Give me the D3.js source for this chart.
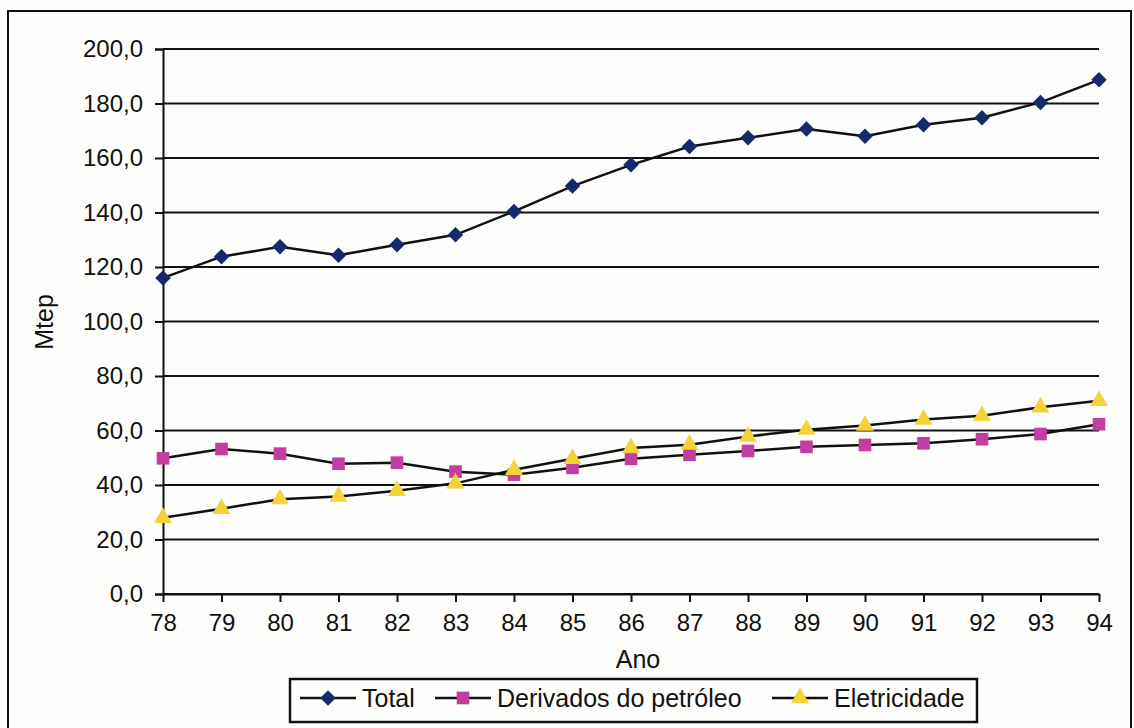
<!DOCTYPE html>
<html>
<head>
<meta charset="utf-8">
<script src="https://cdn.jsdelivr.net/npm/d3@7"></script>
<style>
  body { margin: 0; background: #fdfdfb; }
  text { font-family: Arial, "Liberation Sans", sans-serif; fill: #111; }
</style>
</head>
<body>
<script>
// Consumo de energia (Mtep), 1978-1994

let anos = ["78", "79", "80", "81", "82", "83", "84", "85", "86", "87", "88", "89", "90", "91", "92", "93", "94"];

let total      = [116.0, 123.8, 127.4, 124.3, 128.2, 131.8, 140.4, 149.7, 157.5, 164.2, 167.4, 170.6, 168.0, 172.2, 174.8, 180.4, 188.7];
let derivados  = [49.8, 53.2, 51.5, 47.8, 48.2, 44.9, 43.8, 46.3, 49.6, 51.1, 52.5, 54.0, 54.7, 55.3, 56.8, 58.7, 62.3];
let eletricid  = [28.0, 31.3, 34.8, 35.8, 37.9, 40.6, 45.6, 49.6, 53.6, 54.8, 57.8, 60.3, 61.8, 64.0, 65.4, 68.5, 70.9];

let yTicks = [0, 20, 40, 60, 80, 100, 120, 140, 160, 180, 200];

// o losango é um quadrado girado 45 graus
let series = [
    { nome: "Total", valores: total, cor: "#17296b", simbolo: d3.symbolSquare, tam: 120, giro: 45 },
    { nome: "Derivados do petróleo", valores: derivados, cor: "#c43ea2", simbolo: d3.symbolSquare, tam: 160, giro: 0 },
    { nome: "Eletricidade", valores: eletricid, cor: "#f3d23a", simbolo: d3.symbolTriangle, tam: 140, giro: 0 }
];

let WIDTH = 1134, HEIGHT = 728;

let svg = d3.select("body").append("svg")
            .attr("width", WIDTH)
            .attr("height", HEIGHT);

// moldura externa
svg.append("rect")
   .attr("x", 8).attr("y", 11)
   .attr("width", 1123).attr("height", 740)
   .attr("fill", "none")
   .attr("stroke", "#111")
   .attr("stroke-width", 2);

let x = d3.scalePoint().domain(anos).range([163, 1099]);
let y = d3.scaleLinear().domain([0, 200]).range([594, 49]);

// linhas de grade horizontais
svg.append("g")
   .selectAll("line")
   .data(yTicks)
   .enter()
   .append("line")
      .attr("x1", 163).attr("x2", 1099)
      .attr("y1", d => y(d)).attr("y2", d => y(d))
      .attr("stroke", "#111")
      .attr("stroke-width", 2);

// eixo y
let fmt = d => d.toFixed(1).replace(".", ",");
let eixoY = svg.append("g")
   .attr("transform", "translate(163,0)")
   .call(d3.axisLeft(y).tickValues(yTicks).tickSize(8).tickPadding(12).tickFormat(fmt));
eixoY.selectAll("text").attr("font-size", 24).attr("font-family", "Arial, 'Liberation Sans', sans-serif").attr("fill", "#111");
eixoY.selectAll("line, path").attr("stroke", "#111").attr("stroke-width", 2);

// eixo x
let eixoX = svg.append("g")
   .attr("transform", "translate(0,594)")
   .call(d3.axisBottom(x).tickSize(8).tickSizeOuter(0).tickPadding(12));
eixoX.selectAll("text").attr("font-size", 24).attr("font-family", "Arial, 'Liberation Sans', sans-serif").attr("fill", "#111");
eixoX.selectAll("line, path").attr("stroke", "#111").attr("stroke-width", 2);

// títulos dos eixos
svg.append("text")
   .attr("x", 638).attr("y", 668)
   .attr("text-anchor", "middle")
   .attr("font-size", 25)
   .text("Ano");

svg.append("text")
   .attr("transform", "translate(53,322) rotate(-90)")
   .attr("text-anchor", "middle")
   .attr("font-size", 25)
   .text("Mtep");

// linhas das séries
let linha = d3.line()
              .x((d, i) => x(anos[i]))
              .y(d => y(d));

svg.append("g")
   .selectAll("path")
   .data(series)
   .enter()
   .append("path")
      .attr("d", s => linha(s.valores))
      .attr("fill", "none")
      .attr("stroke", "#111")
      .attr("stroke-width", 2.5);

// marcadores
series.forEach(s => {
    svg.append("g")
       .selectAll("path")
       .data(s.valores)
       .enter()
       .append("path")
          .attr("d", d3.symbol().type(s.simbolo).size(s.tam))
          .attr("transform", (d, i) => "translate(" + x(anos[i]) + "," + y(d) + ") rotate(" + s.giro + ")")
          .attr("fill", s.cor);
});

// legenda
let leg = svg.append("g");
leg.append("rect")
   .attr("x", 290).attr("y", 679)
   .attr("width", 687).attr("height", 43)
   .attr("fill", "#fdfdfb")
   .attr("stroke", "#111")
   .attr("stroke-width", 2.5);

let legX = [300, 435, 772];
series.forEach((s, i) => {
    let x0 = legX[i];
    leg.append("line")
       .attr("x1", x0).attr("x2", x0 + 56)
       .attr("y1", 698).attr("y2", 698)
       .attr("stroke", "#111")
       .attr("stroke-width", 2.5);
    leg.append("path")
       .attr("d", d3.symbol().type(s.simbolo).size(s.tam))
       .attr("transform", "translate(" + (x0 + 28) + ",698) rotate(" + s.giro + ")")
       .attr("fill", s.cor);
    leg.append("text")
       .attr("x", x0 + 62).attr("y", 707)
       .attr("font-size", 25)
       .text(s.nome);
});
</script>
</body>
</html>
